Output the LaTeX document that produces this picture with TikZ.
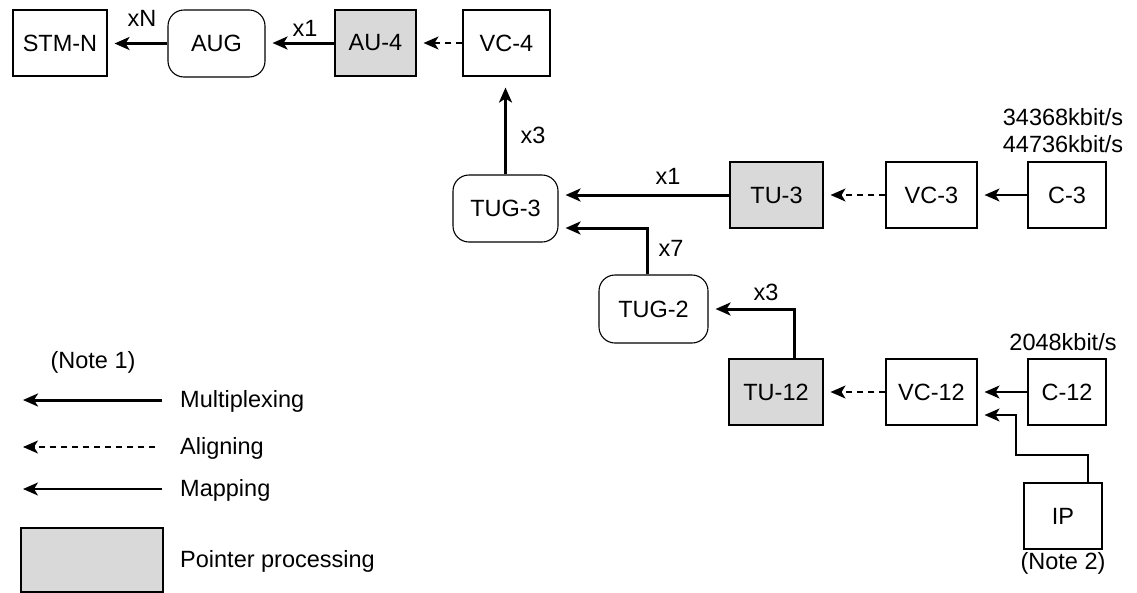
\documentclass[tikz,border=0pt]{standalone}
\usepackage{fontspec}
\setmainfont{Liberation Sans}
\usetikzlibrary{arrows.meta}
\definecolor{ptrgray}{RGB}{217,217,217}
\begin{document}
\begin{tikzpicture}[x=1pt,y=-1pt,
  font=\fontsize{23.5}{28}\selectfont,
  sq/.style={draw=black, line width=1.1pt, inner sep=0pt, minimum height=66pt},
  rnd/.style={sq, rounded corners=16pt},
  ptr/.style={sq, fill=ptrgray},
  tip/.style={-{Stealth[length=15pt,width=13pt,inset=4pt]}},
  mux/.style={tip, line width=3pt, shorten >=7pt},
  alg/.style={tip, line width=1.3pt, dash pattern=on 6pt off 5pt, shorten >=7pt},
  mapp/.style={tip, line width=1.3pt, shorten >=7pt},
  lbl/.style={inner sep=0pt}
]
\useasboundingbox (0,0) rectangle (1137,592);

% top row
\node[sq, minimum width=94pt] (STMN) at (60,43) {STM-N};
\node[rnd, minimum width=97pt, minimum height=67pt] (AUG) at (216.5,43.5) {AUG};
\node[ptr, minimum width=81pt] (AU4) at (375.5,43) {AU-4};
\node[sq, minimum width=87pt] (VC4) at (506.5,43) {VC-4};

% TUG-3 row
\node[rnd, minimum width=105pt, minimum height=67pt] (TUG3) at (505.5,208.5) {TUG-3};
\node[ptr, minimum width=93pt] (TU3) at (776.5,195) {TU-3};
\node[sq, minimum width=91pt] (VC3) at (931.5,195) {VC-3};
\node[sq, minimum width=78pt] (C3) at (1067,195) {C-3};

% TUG-2
\node[rnd, minimum width=109pt, minimum height=68pt] (TUG2) at (653.5,309) {TUG-2};

% TU-12 row
\node[ptr, minimum width=94pt] (TU12) at (776,392) {TU-12};
\node[sq, minimum width=91pt] (VC12) at (931.5,392) {VC-12};
\node[sq, minimum width=78pt] (C12) at (1067,392) {C-12};
\node[sq, minimum width=78pt] (IP) at (1063,516) {IP};

% labels
\node[lbl] (lxN) at (142,18) {xN};
\node[lbl] (lx1a) at (305,28) {x1};
\node[lbl] (lx3a) at (533,135) {x3};
\node[lbl] (lx1b) at (668,176) {x1};
\node[lbl] (lx7) at (671,248) {x7};
\node[lbl] (lx3b) at (766,292) {x3};
\node[lbl] (r1) at (1063,117) {34368kbit/s};
\node[lbl] (r2) at (1063,144) {44736kbit/s};
\node[lbl] (r3) at (1063,342) {2048kbit/s};
\node[lbl] (n2) at (1063,563) {(Note 2)};

% connectors
\draw[mux] (AUG.west) -- (AUG.west -| STMN.east);
\draw[mux] (AU4.west) -- (AU4.west -| AUG.east);
\draw[alg] (VC4.west) -- (VC4.west -| AU4.east);
\draw[mux, shorten >=11pt] (TUG3.north) -- (TUG3.north |- VC4.south);
\draw[mux] (TU3.west) -- (TU3.west -| TUG3.east);
\draw[alg] (VC3.west) -- (VC3.west -| TU3.east);
\draw[mapp] (C3.west) -- (C3.west -| VC3.east);
\draw[mux] ([xshift=-6.5pt]TUG2.north) |- ([yshift=-19.5pt]TUG3.east);
\draw[mux] ([xshift=18pt]TU12.north) |- (TUG2.east);
\draw[alg] (VC12.west) -- (VC12.west -| TU12.east);
\draw[mapp] (C12.west) -- (C12.west -| VC12.east);
\coordinate (ipA) at (1016,455);
\coordinate (ipB) at (1016,415);
\draw[mapp] ([xshift=25pt]IP.north) |- (ipA) -- (ipB) -- (ipB -| VC12.east);

% legend
\node[lbl] (n1) at (93,362) {(Note 1)};
\coordinate (m1) at (162,400); \coordinate (m0) at (23,400);
\coordinate (a1) at (155,447); \coordinate (a0) at (23,447);
\coordinate (p1) at (162,489); \coordinate (p0) at (23,489);
\draw[mux, shorten >=0pt] (m1) -- (m0);
\draw[alg, shorten >=0pt] (a1) -- (a0);
\draw[mapp, shorten >=0pt] (p1) -- (p0);
\node[lbl, anchor=west] (tm) at (180,401) {Multiplexing};
\node[lbl, anchor=west] (ta) at (180,448) {Aligning};
\node[lbl, anchor=west] (tp) at (180,490) {Mapping};
\node[ptr, minimum width=142pt, minimum height=64pt] (lg) at (92,560) {};
\node[lbl, anchor=west] (tpp) at (180,561) {Pointer processing};
\end{tikzpicture}
\end{document}
